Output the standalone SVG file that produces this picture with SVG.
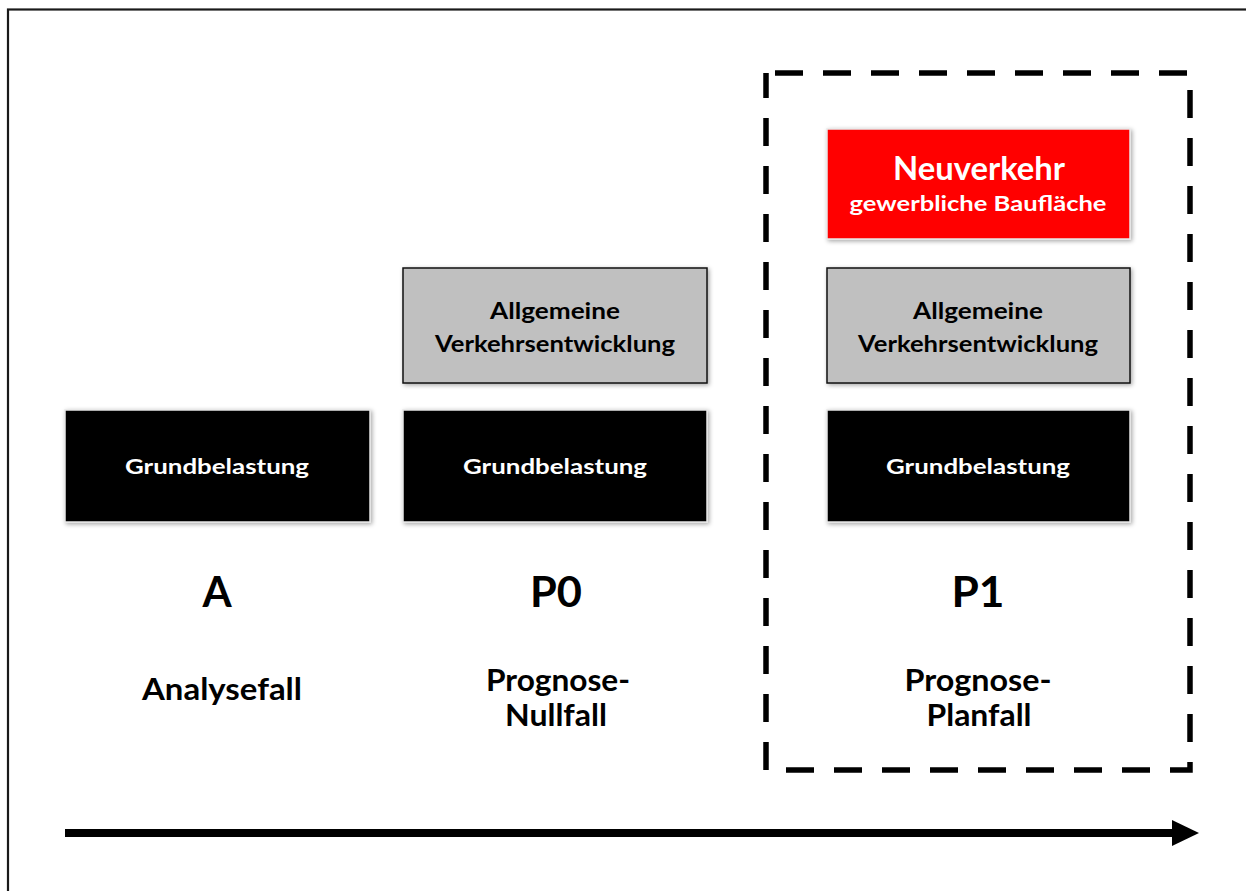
<svg xmlns="http://www.w3.org/2000/svg" width="1246" height="891" viewBox="0 0 1246 891">
<style>
.t{font-family:Lato,"Open Sans","Liberation Sans",sans-serif;font-weight:bold;text-anchor:middle}
.w{fill:#ffffff}
.k{fill:#000000}
.blk{fill:#000000;stroke:#e6e6e6;stroke-width:1.5}
.gry{fill:#c0c0c0;stroke:#111111;stroke-width:1.5}
.red{fill:#ff0000;stroke:#e8e8e8;stroke-width:1.5}
</style>
<defs>
<filter id="sh" x="-10%" y="-20%" width="120%" height="140%">
<feDropShadow dx="1.5" dy="1.5" stdDeviation="2" flood-color="#000" flood-opacity="0.35"/>
</filter>
<marker id="ah" markerUnits="userSpaceOnUse" markerWidth="28" markerHeight="28" refX="0" refY="13" orient="auto">
<path d="M0,0 L27,13 L0,26 Z" fill="#000"/>
</marker>
</defs>
<rect x="0" y="0" width="1246" height="891" fill="#ffffff"/>
<rect x="8" y="9.5" width="1260" height="900" fill="none" stroke="#1a1a1a" stroke-width="2.2"/>

<g id="frame-p1">
<rect x="766" y="73" width="424" height="697" fill="none" stroke="#000" stroke-width="5.5" stroke-dasharray="28 20" stroke-dashoffset="-9"/>
</g>

<g id="node-a-grund">
<rect class="blk" x="65" y="410" width="305" height="112" filter="url(#sh)"/>
<text class="t w" x="217" y="474" font-size="21.5" textLength="184" lengthAdjust="spacingAndGlyphs">Grundbelastung</text>
</g>
<g id="node-p0-grund">
<rect class="blk" x="403" y="410" width="304" height="112" filter="url(#sh)"/>
<text class="t w" x="555" y="474" font-size="21.5" textLength="184" lengthAdjust="spacingAndGlyphs">Grundbelastung</text>
</g>
<g id="node-p0-allg">
<rect class="gry" x="403" y="268" width="304" height="115" filter="url(#sh)"/>
<text class="t k" x="555" y="319" font-size="22" textLength="130" lengthAdjust="spacingAndGlyphs">Allgemeine</text>
<text class="t k" x="555" y="352" font-size="22" textLength="240" lengthAdjust="spacingAndGlyphs">Verkehrsentwicklung</text>
</g>
<g id="node-p1-grund">
<rect class="blk" x="827" y="410" width="303" height="112" filter="url(#sh)"/>
<text class="t w" x="978" y="474" font-size="21.5" textLength="184" lengthAdjust="spacingAndGlyphs">Grundbelastung</text>
</g>
<g id="node-p1-allg">
<rect class="gry" x="827" y="268" width="303" height="115" filter="url(#sh)"/>
<text class="t k" x="978" y="319" font-size="22" textLength="130" lengthAdjust="spacingAndGlyphs">Allgemeine</text>
<text class="t k" x="978" y="352" font-size="22" textLength="240" lengthAdjust="spacingAndGlyphs">Verkehrsentwicklung</text>
</g>
<g id="node-p1-neu">
<rect class="red" x="827" y="129" width="303" height="110" filter="url(#sh)"/>
<text class="t w" x="979" y="180" font-size="32" textLength="172" lengthAdjust="spacingAndGlyphs">Neuverkehr</text>
<text class="t w" x="978" y="211" font-size="21" textLength="257" lengthAdjust="spacingAndGlyphs">gewerbliche Baufläche</text>
</g>

<g id="label-a">
<text class="t k" x="217" y="607" font-size="42">A</text>
<text class="t k" x="222" y="700" font-size="30" textLength="160" lengthAdjust="spacingAndGlyphs">Analysefall</text>
</g>
<g id="label-p0">
<text class="t k" x="556" y="607" font-size="42" textLength="52" lengthAdjust="spacingAndGlyphs">P0</text>
<text class="t k" x="558" y="691" font-size="30" textLength="144" lengthAdjust="spacingAndGlyphs">Prognose-</text>
<text class="t k" x="556" y="726" font-size="30" textLength="102" lengthAdjust="spacingAndGlyphs">Nullfall</text>
</g>
<g id="label-p1">
<text class="t k" x="978" y="607" font-size="42" textLength="53" lengthAdjust="spacingAndGlyphs">P1</text>
<text class="t k" x="978" y="691" font-size="30" textLength="147" lengthAdjust="spacingAndGlyphs">Prognose-</text>
<text class="t k" x="979" y="726" font-size="30" textLength="105" lengthAdjust="spacingAndGlyphs">Planfall</text>
</g>

<g id="connectors">
<line x1="65" y1="833" x2="1172" y2="833" stroke="#000" stroke-width="8" marker-end="url(#ah)"/>
</g>
</svg>
